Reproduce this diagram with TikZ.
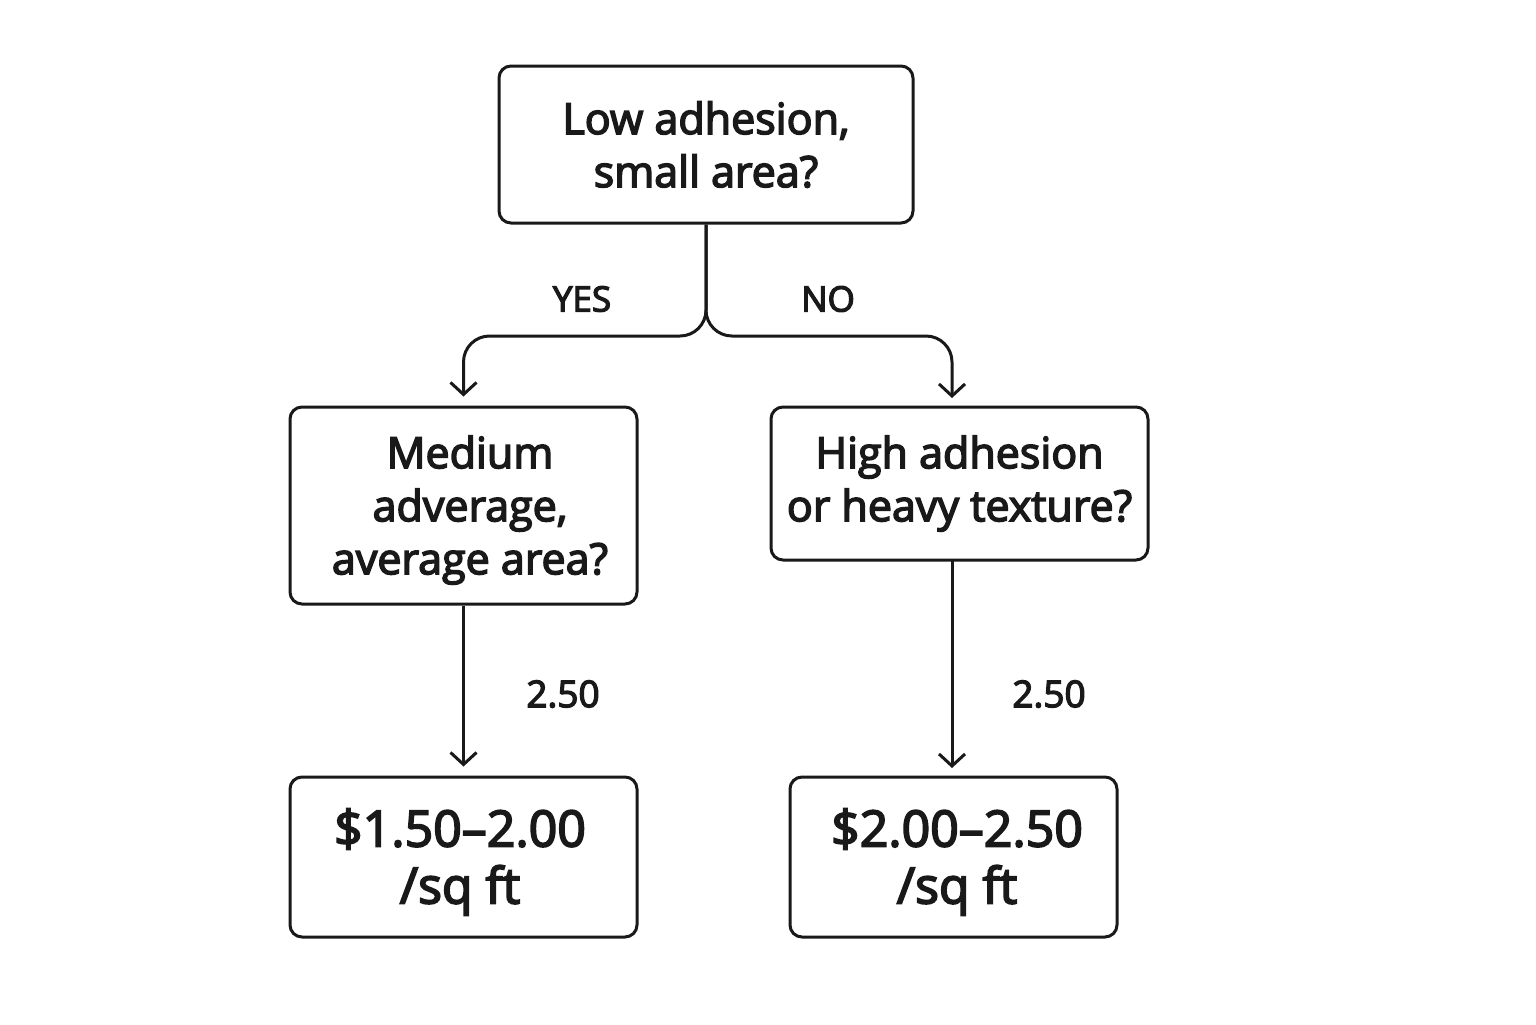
\documentclass[tikz,border=0pt]{standalone}
\usepackage{fontspec}
\setmainfont{Open Sans}[FakeBold=3.5]
\usetikzlibrary{arrows.meta}
\begin{document}
\begin{tikzpicture}[x=0.5pt,y=-0.5pt,
  box/.style={draw=black!90, line width=1.5pt, rounded corners=6pt, inner sep=0pt, align=center, text=black!90},
  qtext/.style={font=\fontsize{21.5}{26.5}\selectfont},
  ptext/.style={font=\fontsize{25}{28.5}\selectfont},
  lbl/.style={font=\fontsize{17.5}{20}\selectfont, text=black!90},
  num/.style={font=\fontsize{18.5}{21}\selectfont, text=black!90},
  conn/.style={draw=black!90, line width=1.5pt, -{Straight Barb[length=6pt,width=13pt,line width=1.5pt]}, shorten >=4.5pt}
]
\useasboundingbox (0,0) rectangle (1536,1024);
\fill[white] (0,0) rectangle (1536,1024);

\node[box, qtext, minimum width=207pt, minimum height=78.5pt] (top) at (706,144.5) {Low adhesion,\\small area?};
\node[box, qtext, minimum width=173.5pt, minimum height=98.5pt] (lm) at (463.5,505.5) {};
\node[qtext, align=center, text=black!90] (lmt) at (470,510) {Medium\\adverage,\\average area?};
\node[box, qtext, minimum width=188.5pt, minimum height=76.5pt] (rm) at (959.5,483.5) {High adhesion\\or heavy texture?};
\node[box, ptext, minimum width=173.5pt, minimum height=80pt] (lb) at (463.5,857) {};
\node[ptext, align=center, text=black!90] (lbt) at (460,862) {\$1.50–2.00\\/sq ft};
\node[box, ptext, minimum width=163.5pt, minimum height=80pt] (rb) at (953.5,857) {};
\node[ptext, align=center, text=black!90] (rbt) at (957,862) {\$2.00–2.50\\/sq ft};

\coordinate (split) at (706,336);
\draw[conn, rounded corners=13pt] (top.south) -- (split) -- (463.5,336) -- (lm.north);
\draw[conn, rounded corners=13pt] (top.south) -- (split) -- (952,336) -- (952,407);
\draw[conn] (lm.south) -- (lb.north);
\draw[conn] (952,560) -- (952,777);

\node[lbl] (yes) at (582,299) {YES};
\node[lbl] (no) at (828,299) {NO};
\node[num] (n1) at (563,694) {2.50};
\node[num] (n2) at (1049,694) {2.50};
\end{tikzpicture}
\end{document}
